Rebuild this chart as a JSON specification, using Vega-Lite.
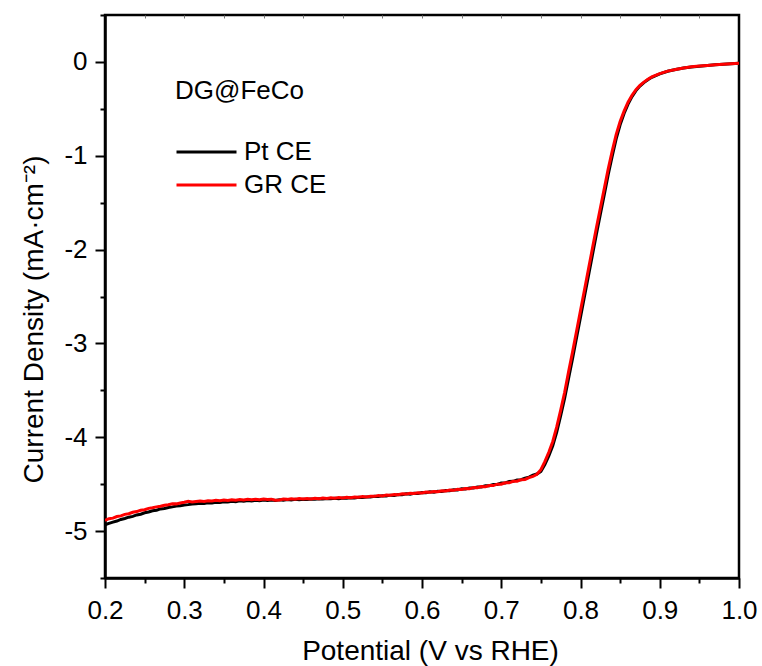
{
  "$schema": "https://vega.github.io/schema/vega-lite/v6.json",
  "width": 634,
  "height": 563,
  "autosize": {"type": "none"},
  "padding": {"left": 105, "top": 15, "right": 23, "bottom": 88},
  "background": "white",
  "config": {"view": {"stroke": "black", "strokeWidth": 2.5}, "font": "Liberation Sans"},
  "data": {"values": [
    {"v":0.200,"Pt CE":-4.932,"GR CE":-4.885},
    {"v":0.205,"Pt CE":-4.918,"GR CE":-4.868},
    {"v":0.210,"Pt CE":-4.905,"GR CE":-4.862},
    {"v":0.215,"Pt CE":-4.893,"GR CE":-4.845},
    {"v":0.220,"Pt CE":-4.876,"GR CE":-4.838},
    {"v":0.225,"Pt CE":-4.866,"GR CE":-4.822},
    {"v":0.230,"Pt CE":-4.852,"GR CE":-4.815},
    {"v":0.235,"Pt CE":-4.843,"GR CE":-4.800},
    {"v":0.240,"Pt CE":-4.828,"GR CE":-4.792},
    {"v":0.245,"Pt CE":-4.820,"GR CE":-4.778},
    {"v":0.250,"Pt CE":-4.805,"GR CE":-4.772},
    {"v":0.255,"Pt CE":-4.797,"GR CE":-4.758},
    {"v":0.260,"Pt CE":-4.784,"GR CE":-4.752},
    {"v":0.265,"Pt CE":-4.778,"GR CE":-4.742},
    {"v":0.270,"Pt CE":-4.764,"GR CE":-4.735},
    {"v":0.275,"Pt CE":-4.760,"GR CE":-4.725},
    {"v":0.280,"Pt CE":-4.748,"GR CE":-4.720},
    {"v":0.285,"Pt CE":-4.742,"GR CE":-4.708},
    {"v":0.290,"Pt CE":-4.733,"GR CE":-4.710},
    {"v":0.295,"Pt CE":-4.731,"GR CE":-4.700},
    {"v":0.300,"Pt CE":-4.722,"GR CE":-4.692},
    {"v":0.305,"Pt CE":-4.718,"GR CE":-4.682},
    {"v":0.310,"Pt CE":-4.712,"GR CE":-4.690},
    {"v":0.315,"Pt CE":-4.710,"GR CE":-4.684},
    {"v":0.320,"Pt CE":-4.703,"GR CE":-4.680},
    {"v":0.325,"Pt CE":-4.705,"GR CE":-4.684},
    {"v":0.330,"Pt CE":-4.697,"GR CE":-4.676},
    {"v":0.335,"Pt CE":-4.700,"GR CE":-4.680},
    {"v":0.340,"Pt CE":-4.692,"GR CE":-4.672},
    {"v":0.345,"Pt CE":-4.694,"GR CE":-4.676},
    {"v":0.350,"Pt CE":-4.688,"GR CE":-4.670},
    {"v":0.355,"Pt CE":-4.690,"GR CE":-4.674},
    {"v":0.360,"Pt CE":-4.682,"GR CE":-4.666},
    {"v":0.365,"Pt CE":-4.686,"GR CE":-4.671},
    {"v":0.370,"Pt CE":-4.678,"GR CE":-4.664},
    {"v":0.375,"Pt CE":-4.683,"GR CE":-4.669},
    {"v":0.380,"Pt CE":-4.674,"GR CE":-4.662},
    {"v":0.385,"Pt CE":-4.680,"GR CE":-4.667},
    {"v":0.390,"Pt CE":-4.671,"GR CE":-4.660},
    {"v":0.395,"Pt CE":-4.676,"GR CE":-4.665},
    {"v":0.400,"Pt CE":-4.668,"GR CE":-4.658},
    {"v":0.405,"Pt CE":-4.674,"GR CE":-4.664},
    {"v":0.410,"Pt CE":-4.669,"GR CE":-4.660},
    {"v":0.415,"Pt CE":-4.673,"GR CE":-4.672},
    {"v":0.420,"Pt CE":-4.666,"GR CE":-4.668},
    {"v":0.425,"Pt CE":-4.670,"GR CE":-4.658},
    {"v":0.430,"Pt CE":-4.664,"GR CE":-4.662},
    {"v":0.435,"Pt CE":-4.668,"GR CE":-4.655},
    {"v":0.440,"Pt CE":-4.662,"GR CE":-4.660},
    {"v":0.445,"Pt CE":-4.666,"GR CE":-4.654},
    {"v":0.450,"Pt CE":-4.660,"GR CE":-4.658},
    {"v":0.455,"Pt CE":-4.663,"GR CE":-4.652},
    {"v":0.460,"Pt CE":-4.658,"GR CE":-4.657},
    {"v":0.465,"Pt CE":-4.661,"GR CE":-4.650},
    {"v":0.470,"Pt CE":-4.655,"GR CE":-4.655},
    {"v":0.475,"Pt CE":-4.659,"GR CE":-4.648},
    {"v":0.480,"Pt CE":-4.653,"GR CE":-4.652},
    {"v":0.485,"Pt CE":-4.656,"GR CE":-4.646},
    {"v":0.490,"Pt CE":-4.650,"GR CE":-4.650},
    {"v":0.495,"Pt CE":-4.654,"GR CE":-4.643},
    {"v":0.500,"Pt CE":-4.648,"GR CE":-4.647},
    {"v":0.505,"Pt CE":-4.651,"GR CE":-4.640},
    {"v":0.510,"Pt CE":-4.644,"GR CE":-4.644},
    {"v":0.515,"Pt CE":-4.647,"GR CE":-4.636},
    {"v":0.520,"Pt CE":-4.640,"GR CE":-4.640},
    {"v":0.525,"Pt CE":-4.643,"GR CE":-4.632},
    {"v":0.530,"Pt CE":-4.636,"GR CE":-4.636},
    {"v":0.535,"Pt CE":-4.638,"GR CE":-4.628},
    {"v":0.540,"Pt CE":-4.630,"GR CE":-4.630},
    {"v":0.545,"Pt CE":-4.632,"GR CE":-4.622},
    {"v":0.550,"Pt CE":-4.624,"GR CE":-4.625},
    {"v":0.555,"Pt CE":-4.626,"GR CE":-4.616},
    {"v":0.560,"Pt CE":-4.617,"GR CE":-4.618},
    {"v":0.565,"Pt CE":-4.620,"GR CE":-4.610},
    {"v":0.570,"Pt CE":-4.610,"GR CE":-4.612},
    {"v":0.575,"Pt CE":-4.613,"GR CE":-4.603},
    {"v":0.580,"Pt CE":-4.603,"GR CE":-4.606},
    {"v":0.585,"Pt CE":-4.606,"GR CE":-4.597},
    {"v":0.590,"Pt CE":-4.596,"GR CE":-4.600},
    {"v":0.595,"Pt CE":-4.599,"GR CE":-4.591},
    {"v":0.600,"Pt CE":-4.590,"GR CE":-4.593},
    {"v":0.605,"Pt CE":-4.592,"GR CE":-4.584},
    {"v":0.610,"Pt CE":-4.582,"GR CE":-4.587},
    {"v":0.615,"Pt CE":-4.585,"GR CE":-4.578},
    {"v":0.620,"Pt CE":-4.575,"GR CE":-4.580},
    {"v":0.625,"Pt CE":-4.578,"GR CE":-4.571},
    {"v":0.630,"Pt CE":-4.567,"GR CE":-4.573},
    {"v":0.635,"Pt CE":-4.570,"GR CE":-4.563},
    {"v":0.640,"Pt CE":-4.559,"GR CE":-4.566},
    {"v":0.645,"Pt CE":-4.561,"GR CE":-4.555},
    {"v":0.650,"Pt CE":-4.550,"GR CE":-4.557},
    {"v":0.655,"Pt CE":-4.551,"GR CE":-4.546},
    {"v":0.660,"Pt CE":-4.540,"GR CE":-4.548},
    {"v":0.665,"Pt CE":-4.541,"GR CE":-4.536},
    {"v":0.670,"Pt CE":-4.529,"GR CE":-4.538},
    {"v":0.675,"Pt CE":-4.530,"GR CE":-4.526},
    {"v":0.680,"Pt CE":-4.517,"GR CE":-4.527},
    {"v":0.685,"Pt CE":-4.517,"GR CE":-4.514},
    {"v":0.690,"Pt CE":-4.503,"GR CE":-4.515},
    {"v":0.695,"Pt CE":-4.503,"GR CE":-4.500},
    {"v":0.700,"Pt CE":-4.488,"GR CE":-4.500},
    {"v":0.705,"Pt CE":-4.487,"GR CE":-4.485},
    {"v":0.710,"Pt CE":-4.472,"GR CE":-4.486},
    {"v":0.715,"Pt CE":-4.470,"GR CE":-4.470},
    {"v":0.720,"Pt CE":-4.455,"GR CE":-4.468},
    {"v":0.725,"Pt CE":-4.452,"GR CE":-4.452},
    {"v":0.730,"Pt CE":-4.435,"GR CE":-4.450},
    {"v":0.735,"Pt CE":-4.425,"GR CE":-4.430},
    {"v":0.740,"Pt CE":-4.405,"GR CE":-4.418},
    {"v":0.745,"Pt CE":-4.392,"GR CE":-4.395},
    {"v":0.750,"Pt CE":-4.365,"GR CE":-4.345},
    {"v":0.755,"Pt CE":-4.290,"GR CE":-4.260},
    {"v":0.760,"Pt CE":-4.200,"GR CE":-4.160},
    {"v":0.765,"Pt CE":-4.090,"GR CE":-4.045},
    {"v":0.770,"Pt CE":-3.945,"GR CE":-3.890},
    {"v":0.775,"Pt CE":-3.770,"GR CE":-3.710},
    {"v":0.780,"Pt CE":-3.585,"GR CE":-3.520},
    {"v":0.785,"Pt CE":-3.370,"GR CE":-3.300},
    {"v":0.790,"Pt CE":-3.160,"GR CE":-3.090},
    {"v":0.795,"Pt CE":-2.940,"GR CE":-2.870},
    {"v":0.800,"Pt CE":-2.720,"GR CE":-2.650},
    {"v":0.805,"Pt CE":-2.500,"GR CE":-2.430},
    {"v":0.810,"Pt CE":-2.280,"GR CE":-2.210},
    {"v":0.815,"Pt CE":-2.060,"GR CE":-1.990},
    {"v":0.820,"Pt CE":-1.840,"GR CE":-1.770},
    {"v":0.825,"Pt CE":-1.625,"GR CE":-1.560},
    {"v":0.830,"Pt CE":-1.415,"GR CE":-1.350},
    {"v":0.835,"Pt CE":-1.200,"GR CE":-1.140},
    {"v":0.840,"Pt CE":-1.005,"GR CE":-0.950},
    {"v":0.845,"Pt CE":-0.820,"GR CE":-0.775},
    {"v":0.850,"Pt CE":-0.670,"GR CE":-0.635},
    {"v":0.855,"Pt CE":-0.550,"GR CE":-0.525},
    {"v":0.860,"Pt CE":-0.450,"GR CE":-0.430},
    {"v":0.865,"Pt CE":-0.370,"GR CE":-0.355},
    {"v":0.870,"Pt CE":-0.306,"GR CE":-0.295},
    {"v":0.875,"Pt CE":-0.258,"GR CE":-0.250},
    {"v":0.880,"Pt CE":-0.221,"GR CE":-0.215},
    {"v":0.885,"Pt CE":-0.190,"GR CE":-0.185},
    {"v":0.890,"Pt CE":-0.164,"GR CE":-0.160},
    {"v":0.900,"Pt CE":-0.127,"GR CE":-0.125},
    {"v":0.910,"Pt CE":-0.099,"GR CE":-0.098},
    {"v":0.920,"Pt CE":-0.081,"GR CE":-0.080},
    {"v":0.930,"Pt CE":-0.065,"GR CE":-0.064},
    {"v":0.940,"Pt CE":-0.053,"GR CE":-0.052},
    {"v":0.950,"Pt CE":-0.045,"GR CE":-0.044},
    {"v":0.960,"Pt CE":-0.038,"GR CE":-0.037},
    {"v":0.970,"Pt CE":-0.031,"GR CE":-0.031},
    {"v":0.980,"Pt CE":-0.025,"GR CE":-0.025},
    {"v":0.990,"Pt CE":-0.020,"GR CE":-0.020},
    {"v":1.000,"Pt CE":-0.015,"GR CE":-0.015}
  ]},
  "transform": [{"fold": ["Pt CE", "GR CE"], "as": ["series", "j"]}],
  "layer": [
    {
      "mark": {"type": "line", "strokeWidth": 3, "clip": true},
      "encoding": {
        "x": {
          "field": "v", "type": "quantitative",
          "scale": {"domain": [0.2, 1.0], "nice": false, "zero": false},
          "axis": {
            "orient": "bottom",
            "values": [0.2,0.25,0.3,0.35,0.4,0.45,0.5,0.55,0.6,0.65,0.7,0.75,0.8,0.85,0.9,0.95,1.0],
            "labelExpr": "abs(datum.value*10-round(datum.value*10))<0.001 ? format(datum.value,'.1f') : ''",
            "tickSize": {"condition": {"test": "abs(datum.value*10-round(datum.value*10))<0.001", "value": 10}, "value": 5},
            "tickWidth": 2, "tickColor": "black",
            "domainColor": "black", "domainWidth": 2.5,
            "labelFontSize": 26, "labelColor": "black", "labelPadding": 9,
            "labelFlush": false, "labelOverlap": false, "grid": false,
            "title": "Potential (V vs RHE)", "titleFontSize": 28, "titleFontWeight": "normal",
            "titleColor": "black", "titleX": 325, "titleY": 81, "titleBaseline": "alphabetic"
          }
        },
        "y": {
          "field": "j", "type": "quantitative",
          "scale": {"domain": [-5.5, 0.5], "nice": false, "zero": false},
          "axis": {
            "orient": "left",
            "values": [-5.5,-5,-4.5,-4,-3.5,-3,-2.5,-2,-1.5,-1,-0.5,0,0.5],
            "labelExpr": "abs(datum.value-round(datum.value))<0.001 ? replace(format(datum.value,'d'),'−','-') : ''",
            "tickSize": {"condition": {"test": "abs(datum.value-round(datum.value))<0.001", "value": 10}, "value": 5},
            "tickWidth": 2, "tickColor": "black",
            "domainColor": "black", "domainWidth": 2.5,
            "labelFontSize": 26, "labelColor": "black", "labelPadding": 8,
            "labelOverlap": false, "grid": false,
            "title": "Current Density (mA·cm⁻²)", "titleFontSize": 28, "titleFontWeight": "normal",
            "titleColor": "black", "titleX": -63, "titleY": 304, "titleBaseline": "alphabetic", "titleAlign": "center"
          }
        },
        "color": {
          "field": "series", "type": "nominal",
          "scale": {"domain": ["Pt CE", "GR CE"], "range": ["#000000", "#ff0000"]},
          "legend": {
            "orient": "none", "legendX": 70, "legendY": 63,
            "title": "DG@FeCo", "titleFontSize": 26, "titleFontWeight": "normal", "titleColor": "black",
            "titlePadding": 35,
            "labelFontSize": 26, "labelColor": "black",
            "symbolType": "stroke", "symbolSize": 3600, "symbolStrokeWidth": 3,
            "labelOffset": 6, "clipHeight": 26, "rowPadding": 7, "padding": 0
          }
        },
        "order": {"field": "v", "type": "quantitative"}
      }
    },
    {
      "mark": {"type": "point", "opacity": 0},
      "encoding": {
        "x": {
          "field": "v", "type": "quantitative",
          "axis": {
            "orient": "top", "labels": false, "domain": false, "title": null, "grid": false,
            "values": [0.25,0.3,0.35,0.4,0.45,0.5,0.55,0.6,0.65,0.7,0.75,0.8,0.85,0.9,0.95],
            "tickSize": -3, "tickColor": "#777777", "tickWidth": 1
          }
        }
      }
    }
  ]
}
